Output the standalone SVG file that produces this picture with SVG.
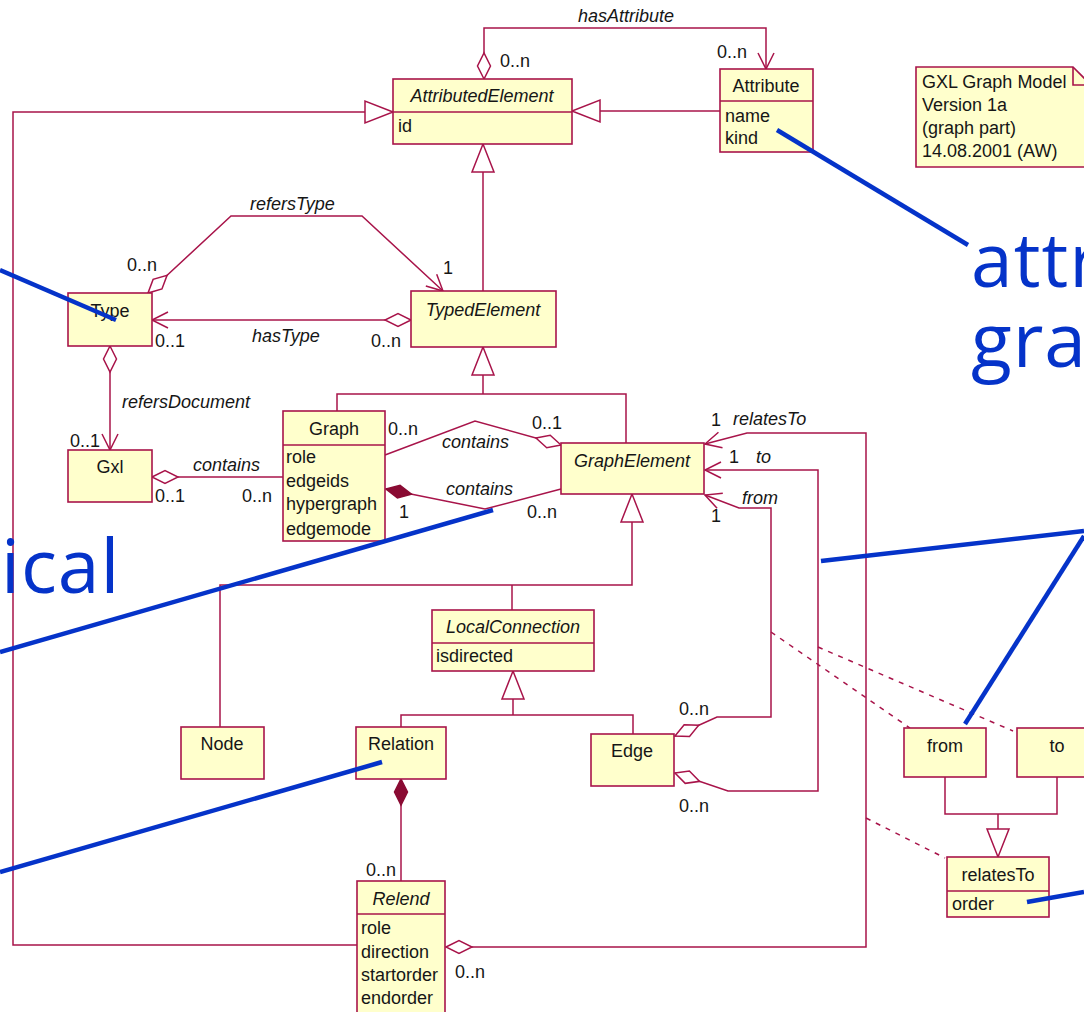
<svg xmlns="http://www.w3.org/2000/svg" width="1084" height="1012" viewBox="0 0 1084 1012">
<style>
.box{fill:#FFFFCC;stroke:#A8144A;stroke-width:1.6}
.sep{stroke:#A8144A;stroke-width:1.6;fill:none}
.ln{fill:none;stroke:#A8144A;stroke-width:1.5}
.dash{fill:none;stroke:#A8144A;stroke-width:1.5;stroke-dasharray:5 6}
.t{font-family:"Liberation Sans",Arial,sans-serif;font-size:18px;fill:#161616}
.i{font-style:italic}
.c{text-anchor:middle}
.blue{stroke:#0533C9;stroke-width:4.5;fill:none}
.big{font-family:"Open Sans",sans-serif;font-size:75px;letter-spacing:1px;fill:#0533C9}
</style>
<defs>
<marker id="arr" markerUnits="userSpaceOnUse" viewBox="-30 -15 60 30" markerWidth="60" markerHeight="30" refX="0" refY="0" orient="auto" overflow="visible"><path d="M-16,-8 L0,0 L-16,8" fill="none" stroke="#A8144A" stroke-width="1.5"/></marker>
<marker id="dia" markerUnits="userSpaceOnUse" viewBox="-30 -15 60 30" markerWidth="60" markerHeight="30" refX="0" refY="0" orient="auto" overflow="visible"><path d="M0,0 L13,-6.5 L26,0 L13,6.5 Z" fill="#FFFFFF" stroke="#A8144A" stroke-width="1.5"/></marker>
<marker id="comp" markerUnits="userSpaceOnUse" viewBox="-30 -15 60 30" markerWidth="60" markerHeight="30" refX="0" refY="0" orient="auto" overflow="visible"><path d="M0,0 L13,-6.5 L26,0 L13,6.5 Z" fill="#8A0B33" stroke="#8A0B33" stroke-width="1.5"/></marker>
<marker id="tri" markerUnits="userSpaceOnUse" viewBox="-30 -15 60 30" markerWidth="60" markerHeight="30" refX="0" refY="0" orient="auto" overflow="visible"><path d="M0,0 L-28,-11 L-28,11 Z" fill="#FFFFFF" stroke="#A8144A" stroke-width="1.5"/></marker>
</defs>
<rect x="0" y="0" width="1084" height="1012" fill="#FFFFFF"/>

<g id="connectors">
<!-- hasAttribute -->
<path class="ln" d="M484,79 L484,28 L766,28 L766,69" marker-start="url(#dia)" marker-end="url(#arr)"/>
<text class="t i" x="578" y="22">hasAttribute</text>
<text class="t" x="500" y="67">0..n</text>
<text class="t" x="717" y="58">0..n</text>
<!-- generalizations to AttributedElement -->
<path class="ln" d="M720,111 L572,111" marker-end="url(#tri)"/>
<path class="ln" d="M357,945 L13,945 L13,112 L393,112" marker-end="url(#tri)"/>
<path class="ln" d="M483,291 L483,144" marker-end="url(#tri)"/>
<!-- refersType -->
<path class="ln" d="M148,293 L231,216 L362,216 L443,291" marker-start="url(#dia)" marker-end="url(#arr)"/>
<text class="t i" x="250" y="210">refersType</text>
<text class="t" x="127" y="271">0..n</text>
<text class="t" x="443" y="274">1</text>
<!-- hasType -->
<path class="ln" d="M411,320 L152,320" marker-start="url(#dia)" marker-end="url(#arr)"/>
<text class="t i" x="252" y="342">hasType</text>
<text class="t" x="155" y="347">0..1</text>
<text class="t" x="371" y="347">0..n</text>
<!-- refersDocument -->
<path class="ln" d="M110,346 L110,450" marker-start="url(#dia)" marker-end="url(#arr)"/>
<text class="t i" x="122" y="408">refersDocument</text>
<text class="t" x="70" y="447">0..1</text>
<!-- Gxl contains Graph -->
<path class="ln" d="M152,477 L283,477" marker-start="url(#dia)"/>
<text class="t i" x="193" y="471">contains</text>
<text class="t" x="155" y="502">0..1</text>
<text class="t" x="242" y="502">0..n</text>
<!-- generalization Graph/GraphElement to TypedElement -->
<path class="ln" d="M337,411 L337,394 L626,394 L626,443"/>
<path class="ln" d="M483,394 L483,347" marker-end="url(#tri)"/>
<!-- Graph contains GraphElement (aggregation) -->
<path class="ln" d="M561,445 L475,421 L385,455" marker-start="url(#dia)"/>
<text class="t" x="388" y="435">0..n</text>
<text class="t i" x="442" y="448">contains</text>
<text class="t" x="532" y="429">0..1</text>
<!-- Graph contains GraphElement (composition) -->
<path class="ln" d="M386,489 L485,509 L561,489" marker-start="url(#comp)"/>
<text class="t i" x="446" y="495">contains</text>
<text class="t" x="399" y="518">1</text>
<text class="t" x="527" y="518">0..n</text>
<!-- relatesTo -->
<path class="ln" d="M446,947 L866,947 L866,433 L747,433 L705,444" marker-start="url(#dia)" marker-end="url(#arr)"/>
<text class="t" x="711" y="426">1</text>
<text class="t i" x="733" y="425">relatesTo</text>
<text class="t" x="455" y="978">0..n</text>
<!-- to -->
<path class="ln" d="M675,773 L728,791 L818,791 L818,470 L705,470" marker-start="url(#dia)" marker-end="url(#arr)"/>
<text class="t" x="729" y="463">1</text>
<text class="t i" x="756" y="463">to</text>
<text class="t" x="679" y="812">0..n</text>
<!-- from -->
<path class="ln" d="M675,736 L717,717 L771,717 L771,508 L739,508 L705,495" marker-start="url(#dia)" marker-end="url(#arr)"/>
<text class="t i" x="742" y="504">from</text>
<text class="t" x="711" y="522">1</text>
<text class="t" x="679" y="715">0..n</text>
<!-- generalization to GraphElement -->
<path class="ln" d="M220,727 L220,585 L632,585 L632,494" marker-end="url(#tri)"/>
<path class="ln" d="M512,610 L512,585"/>
<!-- generalization to LocalConnection -->
<path class="ln" d="M401,727 L401,715 L633,715 L633,734"/>
<path class="ln" d="M513,715 L513,671" marker-end="url(#tri)"/>
<!-- Relation composition Relend -->
<path class="ln" d="M401,779 L401,881" marker-start="url(#comp)"/>
<text class="t" x="366" y="876">0..n</text>
<!-- from/to generalization relatesTo -->
<path class="ln" d="M945,777 L945,814 L1057,814 L1057,777"/>
<path class="ln" d="M998,814 L998,857" marker-end="url(#tri)"/>
<!-- association class links -->
<path class="dash" d="M771,632 L910,728"/>
<path class="dash" d="M818,647 L1013,731"/>
<path class="dash" d="M866,818 L945,858"/>
</g>

<g id="AttributedElement">
<rect class="box" x="393" y="79" width="179" height="65"/>
<line class="sep" x1="393" y1="112" x2="572" y2="112"/>
<text class="t i c" x="482" y="102">AttributedElement</text>
<text class="t" x="398" y="132">id</text>
</g>
<g id="Attribute">
<rect class="box" x="720" y="69" width="93" height="83"/>
<line class="sep" x1="720" y1="101" x2="813" y2="101"/>
<text class="t c" x="766" y="92">Attribute</text>
<text class="t" x="725" y="122">name</text>
<text class="t" x="725" y="144">kind</text>
</g>
<g id="Note">
<path class="box" d="M916,67 L1073,67 L1091,85 L1091,167 L916,167 Z"/>
<path class="sep" d="M1073,67 L1073,85 L1091,85"/>
<text class="t" x="922" y="88">GXL Graph Model</text>
<text class="t" x="922" y="111">Version 1a</text>
<text class="t" x="922" y="134">(graph part)</text>
<text class="t" x="922" y="157">14.08.2001 (AW)</text>
</g>
<g id="Type">
<rect class="box" x="68" y="293" width="84" height="53"/>
<text class="t c" x="110" y="317">Type</text>
</g>
<g id="TypedElement">
<rect class="box" x="411" y="291" width="145" height="56"/>
<text class="t i c" x="483" y="316">TypedElement</text>
</g>
<g id="Gxl">
<rect class="box" x="68" y="450" width="84" height="52"/>
<text class="t c" x="110" y="473">Gxl</text>
</g>
<g id="Graph">
<rect class="box" x="283" y="411" width="102" height="130"/>
<line class="sep" x1="283" y1="445" x2="385" y2="445"/>
<text class="t c" x="334" y="435">Graph</text>
<text class="t" x="286" y="463">role</text>
<text class="t" x="286" y="487">edgeids</text>
<text class="t" x="286" y="510">hypergraph</text>
<text class="t" x="286" y="535">edgemode</text>
</g>
<g id="GraphElement">
<rect class="box" x="561" y="443" width="143" height="51"/>
<text class="t i c" x="632" y="467">GraphElement</text>
</g>
<g id="LocalConnection">
<rect class="box" x="432" y="610" width="162" height="61"/>
<line class="sep" x1="432" y1="643" x2="594" y2="643"/>
<text class="t i c" x="513" y="633">LocalConnection</text>
<text class="t" x="436" y="662">isdirected</text>
</g>
<g id="Node">
<rect class="box" x="181" y="727" width="83" height="52"/>
<text class="t c" x="222" y="750">Node</text>
</g>
<g id="Relation">
<rect class="box" x="356" y="727" width="90" height="52"/>
<text class="t c" x="401" y="750">Relation</text>
</g>
<g id="Edge">
<rect class="box" x="591" y="734" width="83" height="52"/>
<text class="t c" x="632" y="757">Edge</text>
</g>
<g id="Relend">
<rect class="box" x="357" y="881" width="88" height="140"/>
<line class="sep" x1="357" y1="914" x2="445" y2="914"/>
<text class="t i c" x="401" y="905">Relend</text>
<text class="t" x="361" y="934">role</text>
<text class="t" x="361" y="958">direction</text>
<text class="t" x="361" y="981">startorder</text>
<text class="t" x="361" y="1004">endorder</text>
</g>
<g id="from">
<rect class="box" x="904" y="728" width="82" height="49"/>
<text class="t c" x="945" y="752">from</text>
</g>
<g id="to">
<rect class="box" x="1017" y="728" width="80" height="49"/>
<text class="t c" x="1057" y="752">to</text>
</g>
<g id="relatesTo">
<rect class="box" x="947" y="857" width="102" height="60"/>
<line class="sep" x1="947" y1="891" x2="1049" y2="891"/>
<text class="t c" x="998" y="881">relatesTo</text>
<text class="t" x="952" y="910">order</text>
</g>

<g id="annotations">
<line class="blue" x1="0" y1="270" x2="116" y2="320"/>
<line class="blue" x1="777" y1="130" x2="968" y2="245"/>
<line class="blue" x1="0" y1="652" x2="493" y2="510"/>
<line class="blue" x1="382" y1="762" x2="0" y2="872"/>
<line class="blue" x1="821" y1="561" x2="1084" y2="531"/>
<line class="blue" x1="965" y1="724" x2="1084" y2="536"/>
<line class="blue" x1="1027" y1="902" x2="1084" y2="892"/>
<text class="big" x="971" y="287">attr</text>
<text class="big" x="971" y="367">gra</text>
<text class="big" x="1" y="593">ical</text>
</g>
</svg>
